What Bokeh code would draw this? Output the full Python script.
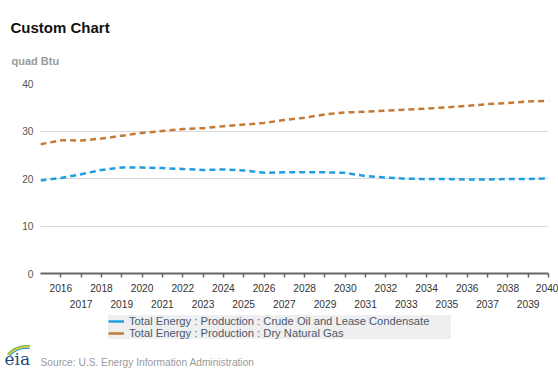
import numpy as np
from bokeh.plotting import figure
from bokeh.layouts import column
from bokeh.models import (FixedTicker, LinearAxis, Legend, LegendItem, Label,
                          PolyAnnotation, Range1d)
from bokeh.embed import file_html
from bokeh.resources import INLINE

years = list(range(2015, 2041))
crude_oil = [19.6, 20.1, 20.9, 21.8, 22.3, 22.3, 22.2, 22.0, 21.8, 21.9, 21.7, 21.2, 21.3,
             21.3, 21.3, 21.2, 20.5, 20.2, 19.95, 19.9, 19.9, 19.8, 19.8, 19.9, 19.9, 20.0]
dry_gas = [27.2, 28.05, 28.0, 28.4, 29.0, 29.6, 30.0, 30.4, 30.6, 31.0, 31.35, 31.7, 32.3,
           32.8, 33.5, 33.9, 34.05, 34.3, 34.5, 34.7, 35.0, 35.3, 35.65, 35.9, 36.2, 36.35]
series_names = ["Total Energy : Production : Crude Oil and Lease Condensate",
                "Total Energy : Production : Dry Natural Gas"]
y_ticks = [0, 10, 20, 30, 40]
x_ticks_all = list(range(2016, 2041))
x_ticks_odd = [y for y in x_ticks_all if y % 2 == 1]
title_text = "Custom Chart"
unit_text = "quad Btu"
source_text = "Source: U.S. Energy Information Administration"

FONT = "Liberation Sans"
BLUE = "#1f9fdf"
ORANGE = "#c47a35"
W = 558
TOP_H, MAIN_H, BOT_H = 77, 233, 62
TICK_FS = "10.2px"


def blank(height, y0):
    f = figure(width=W, height=height, output_backend="svg", toolbar_location=None,
               x_range=Range1d(0, W), y_range=Range1d(y0 + height, y0),
               x_axis_type=None, y_axis_type=None,
               min_border=0, min_border_left=0, min_border_right=0,
               min_border_top=0, min_border_bottom=0, frame_align=False)
    f.outline_line_color = None
    return f


# ---- header ----
top = blank(TOP_H, 0)
top.add_layout(Label(x=10, y=26.5, text=title_text, text_font=FONT, text_font_size="15px",
                     text_font_style="bold", text_color="#111111",
                     text_baseline="middle"))
top.add_layout(Label(x=11, y=60, text=unit_text, text_font=FONT, text_font_size="11px",
                     text_font_style="bold", text_color="#9a9a9a",
                     text_baseline="middle"))

# ---- main chart ----
p = figure(width=W, height=MAIN_H, output_backend="svg", toolbar_location=None,
           x_range=Range1d(2015, 2040), y_range=Range1d(0, 40),
           min_border_left=40, min_border_right=10, min_border_top=6, min_border_bottom=36,
           x_axis_type=None, frame_align=False)
p.outline_line_color = None

p.yaxis.ticker = FixedTicker(ticks=y_ticks)
p.yaxis.axis_line_color = None
p.yaxis.major_tick_line_color = None
p.yaxis.minor_tick_line_color = None
p.yaxis.major_label_standoff = 1
p.yaxis.major_label_text_font = FONT
p.yaxis.major_label_text_font_size = TICK_FS
p.yaxis.major_label_text_color = "#555555"
p.ygrid.ticker = FixedTicker(ticks=y_ticks)
p.ygrid.grid_line_color = "#d9d9d9"
p.ygrid.grid_line_width = 1

ax1 = LinearAxis(ticker=FixedTicker(ticks=x_ticks_all),
                 major_label_overrides={y: ("" if y % 2 else str(y)) for y in x_ticks_all})
ax1.axis_line_color = "#666666"
ax1.axis_line_width = 2
ax1.major_tick_line_color = "#666666"
ax1.major_tick_line_width = 1.5
ax1.major_tick_in = 0
ax1.major_tick_out = 4
ax1.minor_tick_line_color = None
ax1.major_label_standoff = 6
ax1.major_label_text_font = FONT
ax1.major_label_text_font_size = TICK_FS
ax1.major_label_text_color = "#333333"
p.add_layout(ax1, "below")

ax2 = LinearAxis(ticker=FixedTicker(ticks=x_ticks_odd))
ax2.axis_line_color = None
ax2.major_tick_line_color = None
ax2.minor_tick_line_color = None
ax2.major_label_standoff = -1
ax2.major_label_text_font = FONT
ax2.major_label_text_font_size = TICK_FS
ax2.major_label_text_color = "#333333"
p.add_layout(ax2, "below")

p.line(years, crude_oil, line_color=BLUE, line_width=2.5, line_dash="6 4")
p.line(years, dry_gas, line_color=ORANGE, line_width=2.5, line_dash="6 4")

# ---- footer (legend + source) ----
y0 = TOP_H + MAIN_H
bot = blank(BOT_H, y0)
# legend swatches: same series drawn in the footer (outside its visible range)
k1 = bot.line(years, crude_oil, line_color=BLUE, line_width=2.5)
k2 = bot.line(years, dry_gas, line_color=ORANGE, line_width=2.5)
legend = Legend(items=[LegendItem(label=series_names[0], renderers=[k1]),
                       LegendItem(label=series_names[1], renderers=[k2])],
                location=(108, 33), orientation="vertical")
legend.background_fill_color = "#efefef"
legend.background_fill_alpha = 1
legend.border_line_color = None
legend.label_text_font = FONT
legend.label_text_font_size = "11.2px"
legend.label_text_color = "#4a5a6e"
legend.glyph_width = 16
legend.glyph_height = 12
legend.label_height = 12
legend.label_width = 322
legend.label_standoff = 5
legend.spacing = 0
legend.padding = 5
legend.margin = 0
bot.add_layout(legend, "center")

bot.add_layout(Label(x=40, y=361.5, text=source_text, text_font=FONT, text_font_size="10.2px",
                     text_color="#9a9a9a", text_baseline="middle"))
bot.add_layout(Label(x=4, y=358.5, text="eia", text_font="DejaVu Serif", text_font_size="17px",
                     text_color="#1b4a7a", text_baseline="middle"))
cx, cy = 26, 370
ang = np.linspace(np.radians(82), np.radians(140), 20)
for r_out, r_in, col in [(25.5, 24, "#78b843"), (24, 22.8, "#f2c21b"), (22.8, 21.6, "#2a9fd8")]:
    xs = list(cx + r_out * np.cos(ang)) + list(cx + r_in * np.cos(ang[::-1]))
    ys = list(cy - r_out * np.sin(ang)) + list(cy - r_in * np.sin(ang[::-1]))
    bot.add_layout(PolyAnnotation(xs=xs, ys=ys, fill_color=col, fill_alpha=1, line_color=None))

layout = column(top, p, bot, spacing=0)
open("out.html", "w").write(file_html(layout, INLINE))
